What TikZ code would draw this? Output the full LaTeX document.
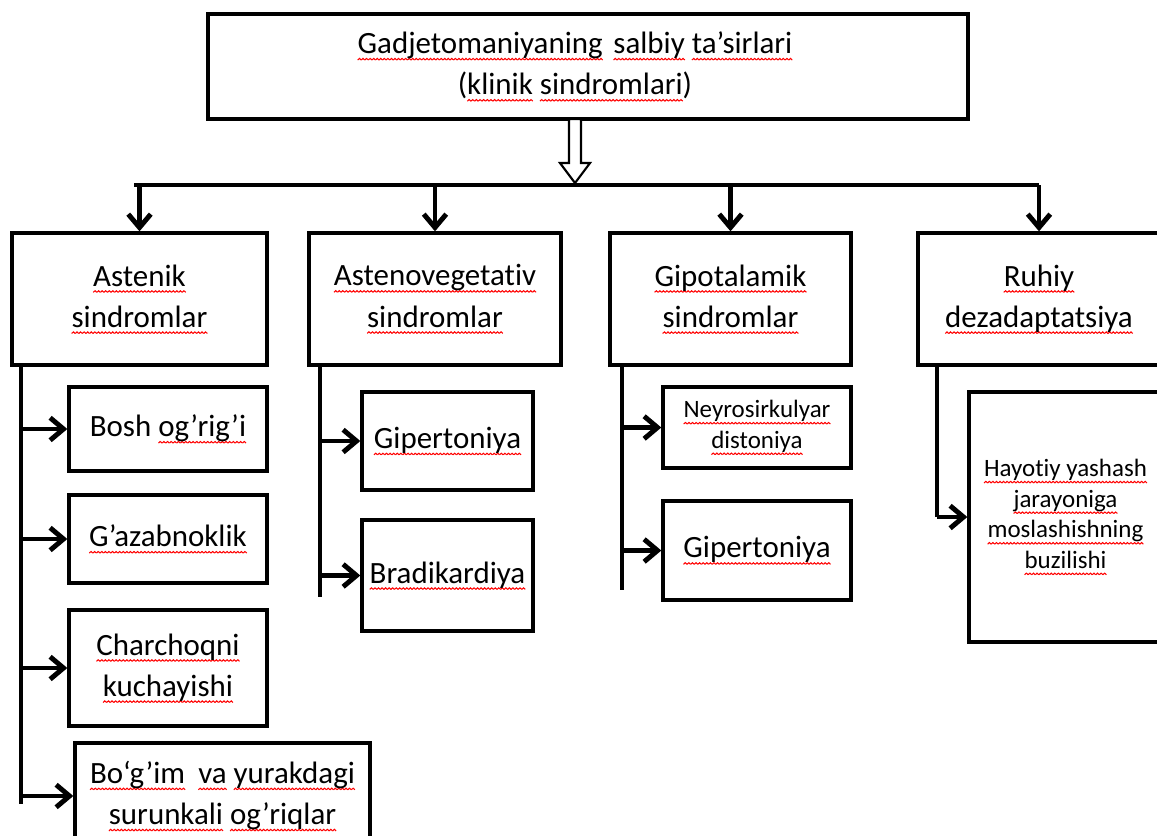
\documentclass[tikz,border=0pt]{standalone}
\usepackage{fontspec}
\setmainfont{Carlito}[Ligatures=NoCommon]
\usetikzlibrary{arrows.meta}
% red spell-check wave under a word
\newsavebox\wavebox
\AtBeginDocument{\sbox\wavebox{\begin{pgfpicture}
  \pgfpathrectangle{\pgfpointorigin}{\pgfpoint{1pt}{0.45pt}}\pgfusepath{use as bounding box}
  \pgfsetlinewidth{0.3pt}\pgfsetstrokecolor{red}
  \pgfpathmoveto{\pgfpointorigin}\pgfpathlineto{\pgfpoint{0.5pt}{0.45pt}}\pgfpathlineto{\pgfpoint{1pt}{0pt}}
  \pgfusepath{stroke}\end{pgfpicture}}}
\newcommand\sq[1]{\leavevmode\setbox0\hbox{#1}%
  \rlap{\lower1.8pt\hbox to\wd0{\xleaders\copy\wavebox\hfill}}#1}
\tikzset{
  box/.style={draw,line width=0.95pt,inner sep=0pt,align=center,font=\fontsize{8.8}{11.7}\selectfont},
  small/.style={font=\fontsize{7.1}{8.7}\selectfont},
  txt/.style={inner sep=0pt,align=center,font=\fontsize{8.8}{11.7}\selectfont},
  wh/.style 2 args={minimum width=#1*0.01cm,minimum height=#2*0.01cm},
  conn/.style={line width=1.4pt},
  arr/.style={conn,-{Straight Barb[length=3.8pt,width=6.4pt]}},
}
\begin{document}
\begin{tikzpicture}[x=0.01cm,y=-0.01cm]
\useasboundingbox (0,0) rectangle (1157,836);
\clip (0,0) rectangle (1157,836);
\fill[white] (0,0) rectangle (1157,836);
% title
\node[box,wh={760}{105}] (top) at (588,66.5) {};
\node[txt] (title) at (575,66.5) {\sq{Gadjetomaniyaning}\hspace{.12em} \sq{salbiy} \sq{ta’sirlari}\\(\sq{klinik} \sq{sindromlari})};
% syndromes
\node[box,wh={255}{132}] (a1) at (139.5,299) {\sq{Astenik}\\\sq{sindromlar}};
\node[box,wh={252}{132}] (a2) at (435,299) {\sq{Astenovegetativ}\\\sq{sindromlar}};
\node[box,wh={241}{132}] (a3) at (730.5,299) {\sq{Gipotalamik}\\\sq{sindromlar}};
\node[box,wh={242}{132}] (a4) at (1039,299) {\sq{Ruhiy}\\\sq{dezadaptatsiya}};
% column 1
\node[box,wh={198}{84}] (b1) at (168,429) {Bosh \sq{og’rig’i}};
\node[box,wh={198}{88}] (b2) at (168,539) {\sq{G’azabnoklik}};
\node[box,wh={198}{116}] (b3) at (168,668) {\sq{Charchoqni}\\\sq{kuchayishi}};
\node[box,wh={295}{106}] (b4) at (222.5,796) {\sq{Bo‘g’im}\hspace{.2em} \sq{va} \sq{yurakdagi}\\\sq{surunkali} \sq{og’riqlar}};
% column 2
\node[box,wh={171}{98}] (c1) at (447.5,441) {\sq{Gipertoniya}};
\node[box,wh={171}{111}] (c2) at (447.5,575.5) {\sq{Bradikardiya}};
% column 3
\node[box,small,wh={188}{81}] (d1) at (757,427.5) {\sq{Neyrosirkulyar}\\\sq{distoniya}};
\node[box,wh={188}{99}] (d2) at (757,550.5) {\sq{Gipertoniya}};
% column 4
\node[box,small,wh={193}{250}] (e1) at (1065.5,517) {\sq{Hayotiy yashash}\\\sq{jarayoniga}\\\sq{moslashishning}\\\sq{buzilishi}};
% bar under the title
\coordinate (barL) at (134,185);
\coordinate (barR) at (1039,185);
\coordinate (tip) at (575,183);
\draw[line width=1.3pt] (barL) -- (barR);
\foreach \n in {a1,a2,a3,a4} \draw[arr] (\n.north |- barL) -- (\n.north);
\draw[line width=0.6pt,fill=white] (tip) -- ++(-15,-20) -- ++(9,0) -- ++(0,-44) -- ++(12,0) -- ++(0,44) -- ++(9,0) -- cycle; %hollow arrow
% side lines
\coordinate (s1) at (21,365); \coordinate (t1) at (21,804);
\coordinate (s2) at (320,365); \coordinate (t2) at (320,597);
\coordinate (s3) at (622,365); \coordinate (t3) at (622,590);
\coordinate (s4) at (937,365);
\draw[conn] (s1) -- (t1);
\draw[conn] (s2) -- (t2);
\draw[conn] (s3) -- (t3);
\draw[conn] (s4) -- (e1.west -| s4);
\foreach \b/\s in {b1/s1,b2/s1,b3/s1,b4/s1,c1/s2,c2/s2,d1/s3,d2/s3,e1/s4}
  \draw[arr] (\b.west -| \s) -- (\b.west);
\end{tikzpicture}
\end{document}
